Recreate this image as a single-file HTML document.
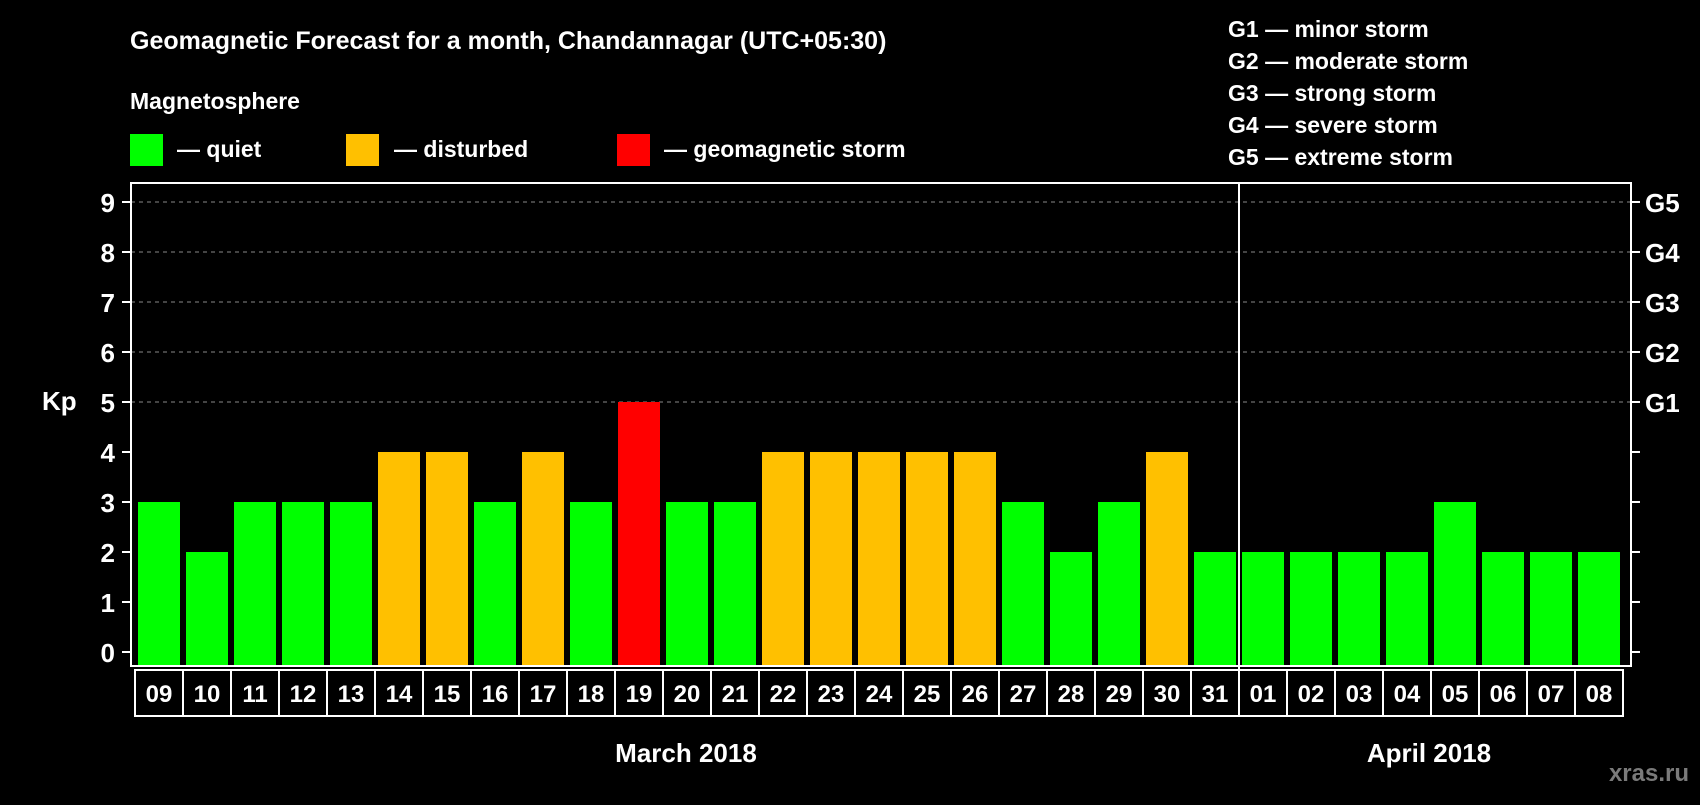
<!DOCTYPE html>
<html><head><meta charset="utf-8"><style>
body{margin:0;background:#000;width:1700px;height:800px;overflow:hidden}
svg text{font-family:"Liberation Sans",Arial,sans-serif;font-weight:bold;fill:#fff}
</style></head><body>
<svg id="chart" width="1700" height="800" xmlns="http://www.w3.org/2000/svg">
<text x="130" y="49" font-size="25">Geomagnetic Forecast for a month, Chandannagar (UTC+05:30)</text>
<text x="130" y="109" font-size="23">Magnetosphere</text>
<rect x="130" y="134" width="33" height="32" fill="#00ff00"/>
<text x="177" y="157" font-size="23">— quiet</text>
<rect x="346" y="134" width="33" height="32" fill="#ffc000"/>
<text x="394" y="157" font-size="23">— disturbed</text>
<rect x="617" y="134" width="33" height="32" fill="#ff0000"/>
<text x="664" y="157" font-size="23">— geomagnetic storm</text>
<g font-size="23">
<text x="1228" y="37">G1 — minor storm</text>
<text x="1228" y="69">G2 — moderate storm</text>
<text x="1228" y="101">G3 — strong storm</text>
<text x="1228" y="133">G4 — severe storm</text>
<text x="1228" y="165">G5 — extreme storm</text>
</g>
<text x="42" y="410" font-size="26">Kp</text>
<g id="grid"></g><g id="bars"></g><g id="axes"></g><g id="labels"></g>
<rect x="131" y="183" width="1500" height="483" fill="none" stroke="#fff" stroke-width="2"/>
<line x1="1239" y1="183" x2="1239" y2="716" stroke="#fff" stroke-width="2"/>
<text x="686" y="762" font-size="26" text-anchor="middle">March 2018</text>
<text x="1429" y="762" font-size="26" text-anchor="middle">April 2018</text>
<text x="1689" y="781" font-size="24" text-anchor="end" fill="#777" style="fill:#7a7a7a">xras.ru</text>
</svg>
<script>
const days=["09","10","11","12","13","14","15","16","17","18","19","20","21","22","23","24","25","26","27","28","29","30","31","01","02","03","04","05","06","07","08"];
const kp=[3,2,3,3,3,4,4,3,4,3,5,3,3,4,4,4,4,4,3,2,3,4,2,2,2,2,2,3,2,2,2];
const yTicks=[0,1,2,3,4,5,6,7,8,9];
const gLabels=["G1","G2","G3","G4","G5"];
const NS="http://www.w3.org/2000/svg";
const y=v=>652-v*50;
const x=i=>138+i*48;
function mk(t,a,p){const e=document.createElementNS(NS,t);for(const k in a)e.setAttribute(k,a[k]);p.appendChild(e);return e;}
const grid=document.getElementById('grid'),bars=document.getElementById('bars'),axes=document.getElementById('axes'),labels=document.getElementById('labels');
yTicks.forEach(v=>{
  if(v>=5){const g=mk('line',{x1:131,x2:1631,y1:y(v),y2:y(v),stroke:'#888','stroke-dasharray':'4,4','stroke-width':1},grid);
  
  }
  const t1=mk('line',{x1:122,x2:131,y1:y(v),y2:y(v),stroke:'#fff','stroke-width':2},axes);
  
  
  const t2=mk('line',{x1:1631,x2:1640,y1:y(v),y2:y(v),stroke:'#fff','stroke-width':2},axes);
  
  
  const tx=mk('text',{x:115,y:y(v)+10,'font-size':26,'text-anchor':'end'},axes);tx.textContent=v;
  
  
  if(v>=5){const gl=mk('text',{x:1645,y:y(v)+10,'font-size':26},axes);gl.textContent=gLabels[v-5];
  
  }
});
kp.forEach((v,i)=>{
  const c=v>=5?'#ff0000':(v>=4?'#ffc000':'#00ff00');
  const b=mk('rect',{x:x(i),y:y(v),width:42,height:665-y(v),fill:c},bars);
  
  
  const bx=mk('rect',{x:x(i)-3,y:670,width:48,height:46,fill:'none',stroke:'#fff','stroke-width':2},labels);
  
  
  const t=mk('text',{x:x(i)+21,y:702,'font-size':24,'text-anchor':'middle'},labels);t.textContent=days[i];
  
  
});
</script>
</body></html>
